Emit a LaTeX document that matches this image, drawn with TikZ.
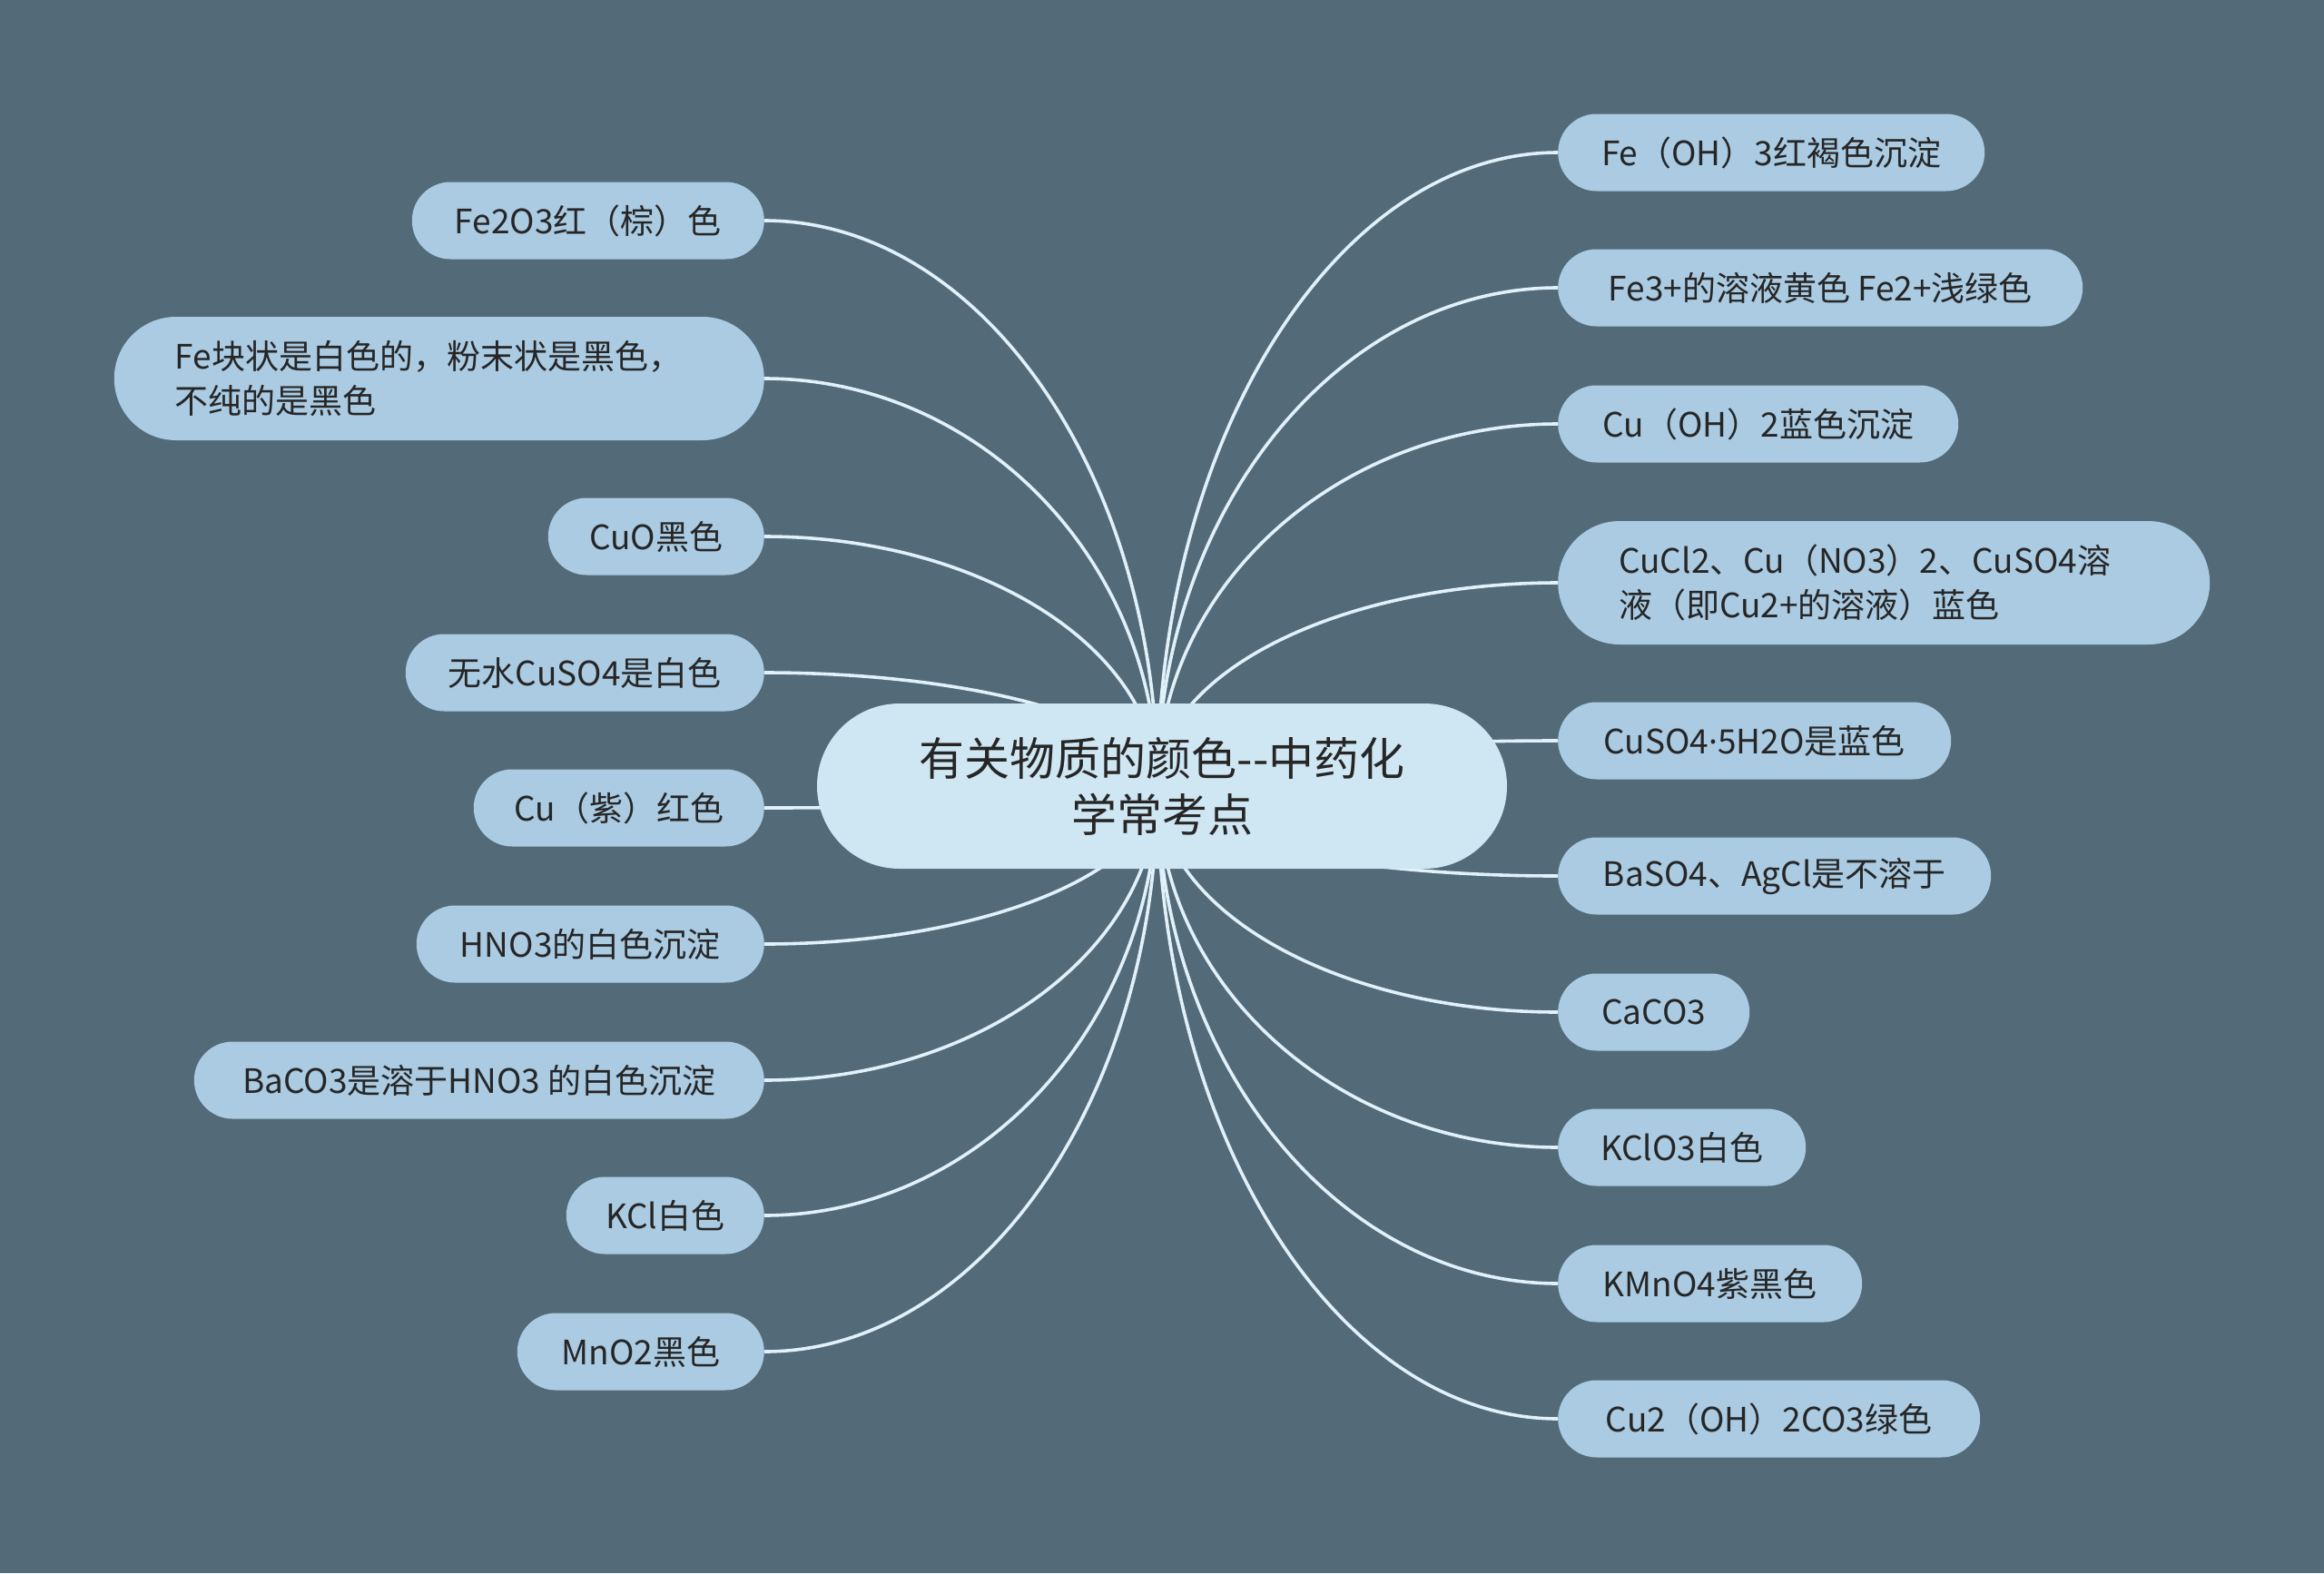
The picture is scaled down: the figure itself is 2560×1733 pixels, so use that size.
\documentclass[tikz,border=0pt]{standalone}
\usepackage{fontspec}
\setmainfont{Noto Sans CJK SC}
\newfontfamily\latinf{Noto Sans}
\usetikzlibrary{calc}
\definecolor{bgc}{HTML}{536A79}
\definecolor{nodec}{HTML}{AACBE2}
\definecolor{centc}{HTML}{CFE6F3}
\definecolor{edgec}{HTML}{E0F1F9}
\definecolor{txtc}{HTML}{262626}
\pgfdeclarelayer{bglayer}
\pgfdeclarelayer{edgelayer}
\pgfsetlayers{bglayer,edgelayer,main}
\begin{document}
\begin{tikzpicture}[x=1pt,y=-1pt,
  leaf/.style={fill=nodec, text=txtc, inner sep=0pt, minimum height=85pt,
    rounded corners=42.5pt, font=\fontsize{37}{49}\selectfont, align=center},
  leaftwo/.style={fill=nodec, text=txtc, inner sep=0pt, minimum height=136pt,
    rounded corners=68pt, font=\fontsize{37}{49}\selectfont, align=left},
  centre/.style={fill=centc, text=txtc, inner sep=0pt, minimum width=760pt,
    minimum height=182pt, rounded corners=91pt, font=\fontsize{50}{62}\selectfont, align=center},
  edge/.style={draw=edgec, line width=3.6pt}]
\useasboundingbox (0,0) rectangle (2560,1733);
\begin{pgfonlayer}{bglayer}
\fill[bgc] (0,0) rectangle (2560,1733);
\end{pgfonlayer}

\node[centre] (c) at (1280,866) {有关物质的颜色-\kern0pt-中药化\\学常考点};
\coordinate (hub) at (1275,866);

% left nodes
\node[leaf, anchor=east, minimum width=388pt] (l1) at (842,243) {Fe2O3红（棕）色};
\node[leaftwo, anchor=east, minimum width=716pt, text width=582pt] (l2) at (842,417) {Fe块状是白色的，粉末状是黑色，\\不纯的是黑色};
\node[leaf, anchor=east, minimum width=238pt] (l3) at (842,591) {CuO黑色};
\node[leaf, anchor=east, minimum width=395pt] (l4) at (842,741) {无水CuSO4是白色};
\node[leaf, anchor=east, minimum width=320pt] (l5) at (842,890) {Cu（紫）红色};
\node[leaf, anchor=east, minimum width=383pt] (l6) at (842,1040) {HNO3的白色沉淀};
\node[leaf, anchor=east, minimum width=628pt] (l7) at (842,1190) {BaCO3是溶于HNO3 的白色沉淀};
\node[leaf, anchor=east, minimum width=218pt] (l8) at (842,1339) {KCl白色};
\node[leaf, anchor=east, minimum width=272pt] (l9) at (842,1489) {MnO2黑色};

% right nodes
\node[leaf, anchor=west, minimum width=470pt] (r1) at (1716,168) {Fe（OH）3红褐色沉淀};
\node[leaf, anchor=west, minimum width=578pt] (r2) at (1716,317) {Fe3+的溶液黄色 Fe2+浅绿色};
\node[leaf, anchor=west, minimum width=441pt] (r3) at (1716,467) {Cu（OH）2蓝色沉淀};
\node[leaftwo, anchor=west, minimum width=718pt, text width=584pt] (r4) at (1716,642) {CuCl2、Cu（NO3）2、CuSO4溶\\液（即Cu2+的溶液）蓝色};
\node[leaf, anchor=west, minimum width=433pt] (r5) at (1716,816) {CuSO4{\latinf ·}5H2O是蓝色};
\node[leaf, anchor=west, minimum width=477pt] (r6) at (1716,965) {BaSO4、AgCl是不溶于};
\node[leaf, anchor=west, minimum width=211pt] (r7) at (1716,1115) {CaCO3};
\node[leaf, anchor=west, minimum width=273pt] (r8) at (1716,1264) {KClO3白色};
\node[leaf, anchor=west, minimum width=335pt] (r9) at (1716,1414) {KMnO4紫黑色};
\node[leaf, anchor=west, minimum width=465pt] (r10) at (1716,1563) {Cu2（OH）2CO3绿色};

\begin{pgfonlayer}{edgelayer}
\foreach \n in {l1,l2,l3,l4,l5,l6,l7,l8,l9} {
  \draw[edge] (hub) .. controls ($(hub)!0.55!(hub |- \n.east)$) and ($(\n.east)!0.55!(hub |- \n.east)$) .. (\n.east);
}
\foreach \n in {r1,r2,r3,r4,r5,r6,r7,r8,r9,r10} {
  \draw[edge] (hub) .. controls ($(hub)!0.55!(hub |- \n.west)$) and ($(\n.west)!0.55!(hub |- \n.west)$) .. (\n.west);
}
\end{pgfonlayer}
\end{tikzpicture}
\end{document}
